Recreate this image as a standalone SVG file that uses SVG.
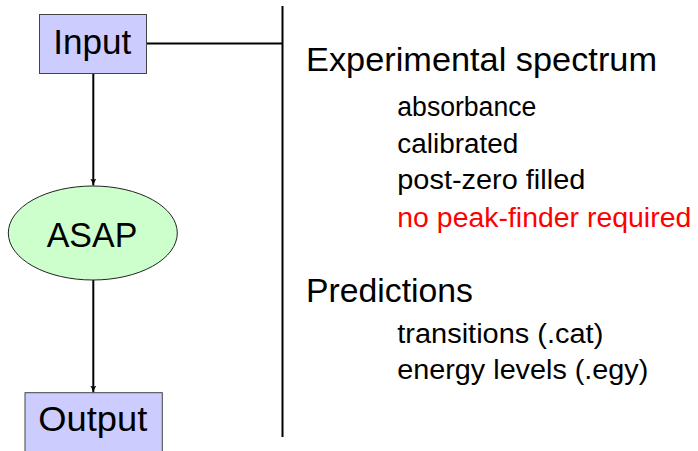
<svg xmlns="http://www.w3.org/2000/svg" width="698" height="451" viewBox="0 0 698 451">
<style>
.box{fill:#ccccff;stroke:#444;stroke-width:1}
.ell{fill:#ccffcc;stroke:#222;stroke-width:1}
.lbl{font-family:"Liberation Sans",Arial,sans-serif;fill:#000}
.node{font-size:35px}
.head{font-size:32.5px}
.item{font-size:27px}
.red{fill:#ff0000}
.conn{stroke:#000;stroke-width:2;fill:none}
</style>
<defs>
<marker id="arr" markerWidth="8" markerHeight="8" refX="7" refY="4" orient="auto" markerUnits="userSpaceOnUse">
<path d="M0,0.8 Q3,3 7,4 Q3,5 0,7.2 L1.5,4 Z" fill="#000"/>
</marker>
</defs>
<g id="connectors">
<line class="conn" x1="146.5" y1="43.5" x2="282.5" y2="43.5"/>
<line class="conn" x1="282.5" y1="6" x2="282.5" y2="437"/>
<line class="conn" x1="93.3" y1="73.5" x2="93.3" y2="185.5" marker-end="url(#arr)"/>
<line class="conn" x1="93.3" y1="280" x2="93.3" y2="392.5" marker-end="url(#arr)"/>
</g>
<g id="input">
<rect class="box" x="39.5" y="14.5" width="107" height="59"/>
<text class="lbl node" x="53.3" y="54" textLength="78" lengthAdjust="spacingAndGlyphs">Input</text>
</g>
<g id="asap">
<ellipse class="ell" cx="92.8" cy="233" rx="84.5" ry="47"/>
<text class="lbl node" x="46.7" y="247.3" textLength="90.7" lengthAdjust="spacingAndGlyphs">ASAP</text>
</g>
<g id="output">
<rect class="box" x="25" y="392.7" width="137.3" height="70"/>
<text class="lbl node" x="38.3" y="430.7" textLength="109" lengthAdjust="spacingAndGlyphs">Output</text>
</g>
<g id="experimental">
<text class="lbl head" x="306" y="70.7" textLength="351" lengthAdjust="spacingAndGlyphs">Experimental spectrum</text>
<text class="lbl item" x="397.3" y="116" textLength="139" lengthAdjust="spacingAndGlyphs">absorbance</text>
<text class="lbl item" x="397.3" y="152.7" textLength="121" lengthAdjust="spacingAndGlyphs">calibrated</text>
<text class="lbl item" x="397.3" y="189.3" textLength="188" lengthAdjust="spacingAndGlyphs">post-zero filled</text>
<text class="lbl item red" x="397.3" y="226.5" textLength="294" lengthAdjust="spacingAndGlyphs">no peak-finder required</text>
</g>
<g id="predictions">
<text class="lbl head" x="306" y="302.3" textLength="167" lengthAdjust="spacingAndGlyphs">Predictions</text>
<text class="lbl item" x="397.3" y="342.5" textLength="206" lengthAdjust="spacingAndGlyphs">transitions (.cat)</text>
<text class="lbl item" x="397.3" y="379" textLength="251" lengthAdjust="spacingAndGlyphs">energy levels (.egy)</text>
</g>
</svg>
